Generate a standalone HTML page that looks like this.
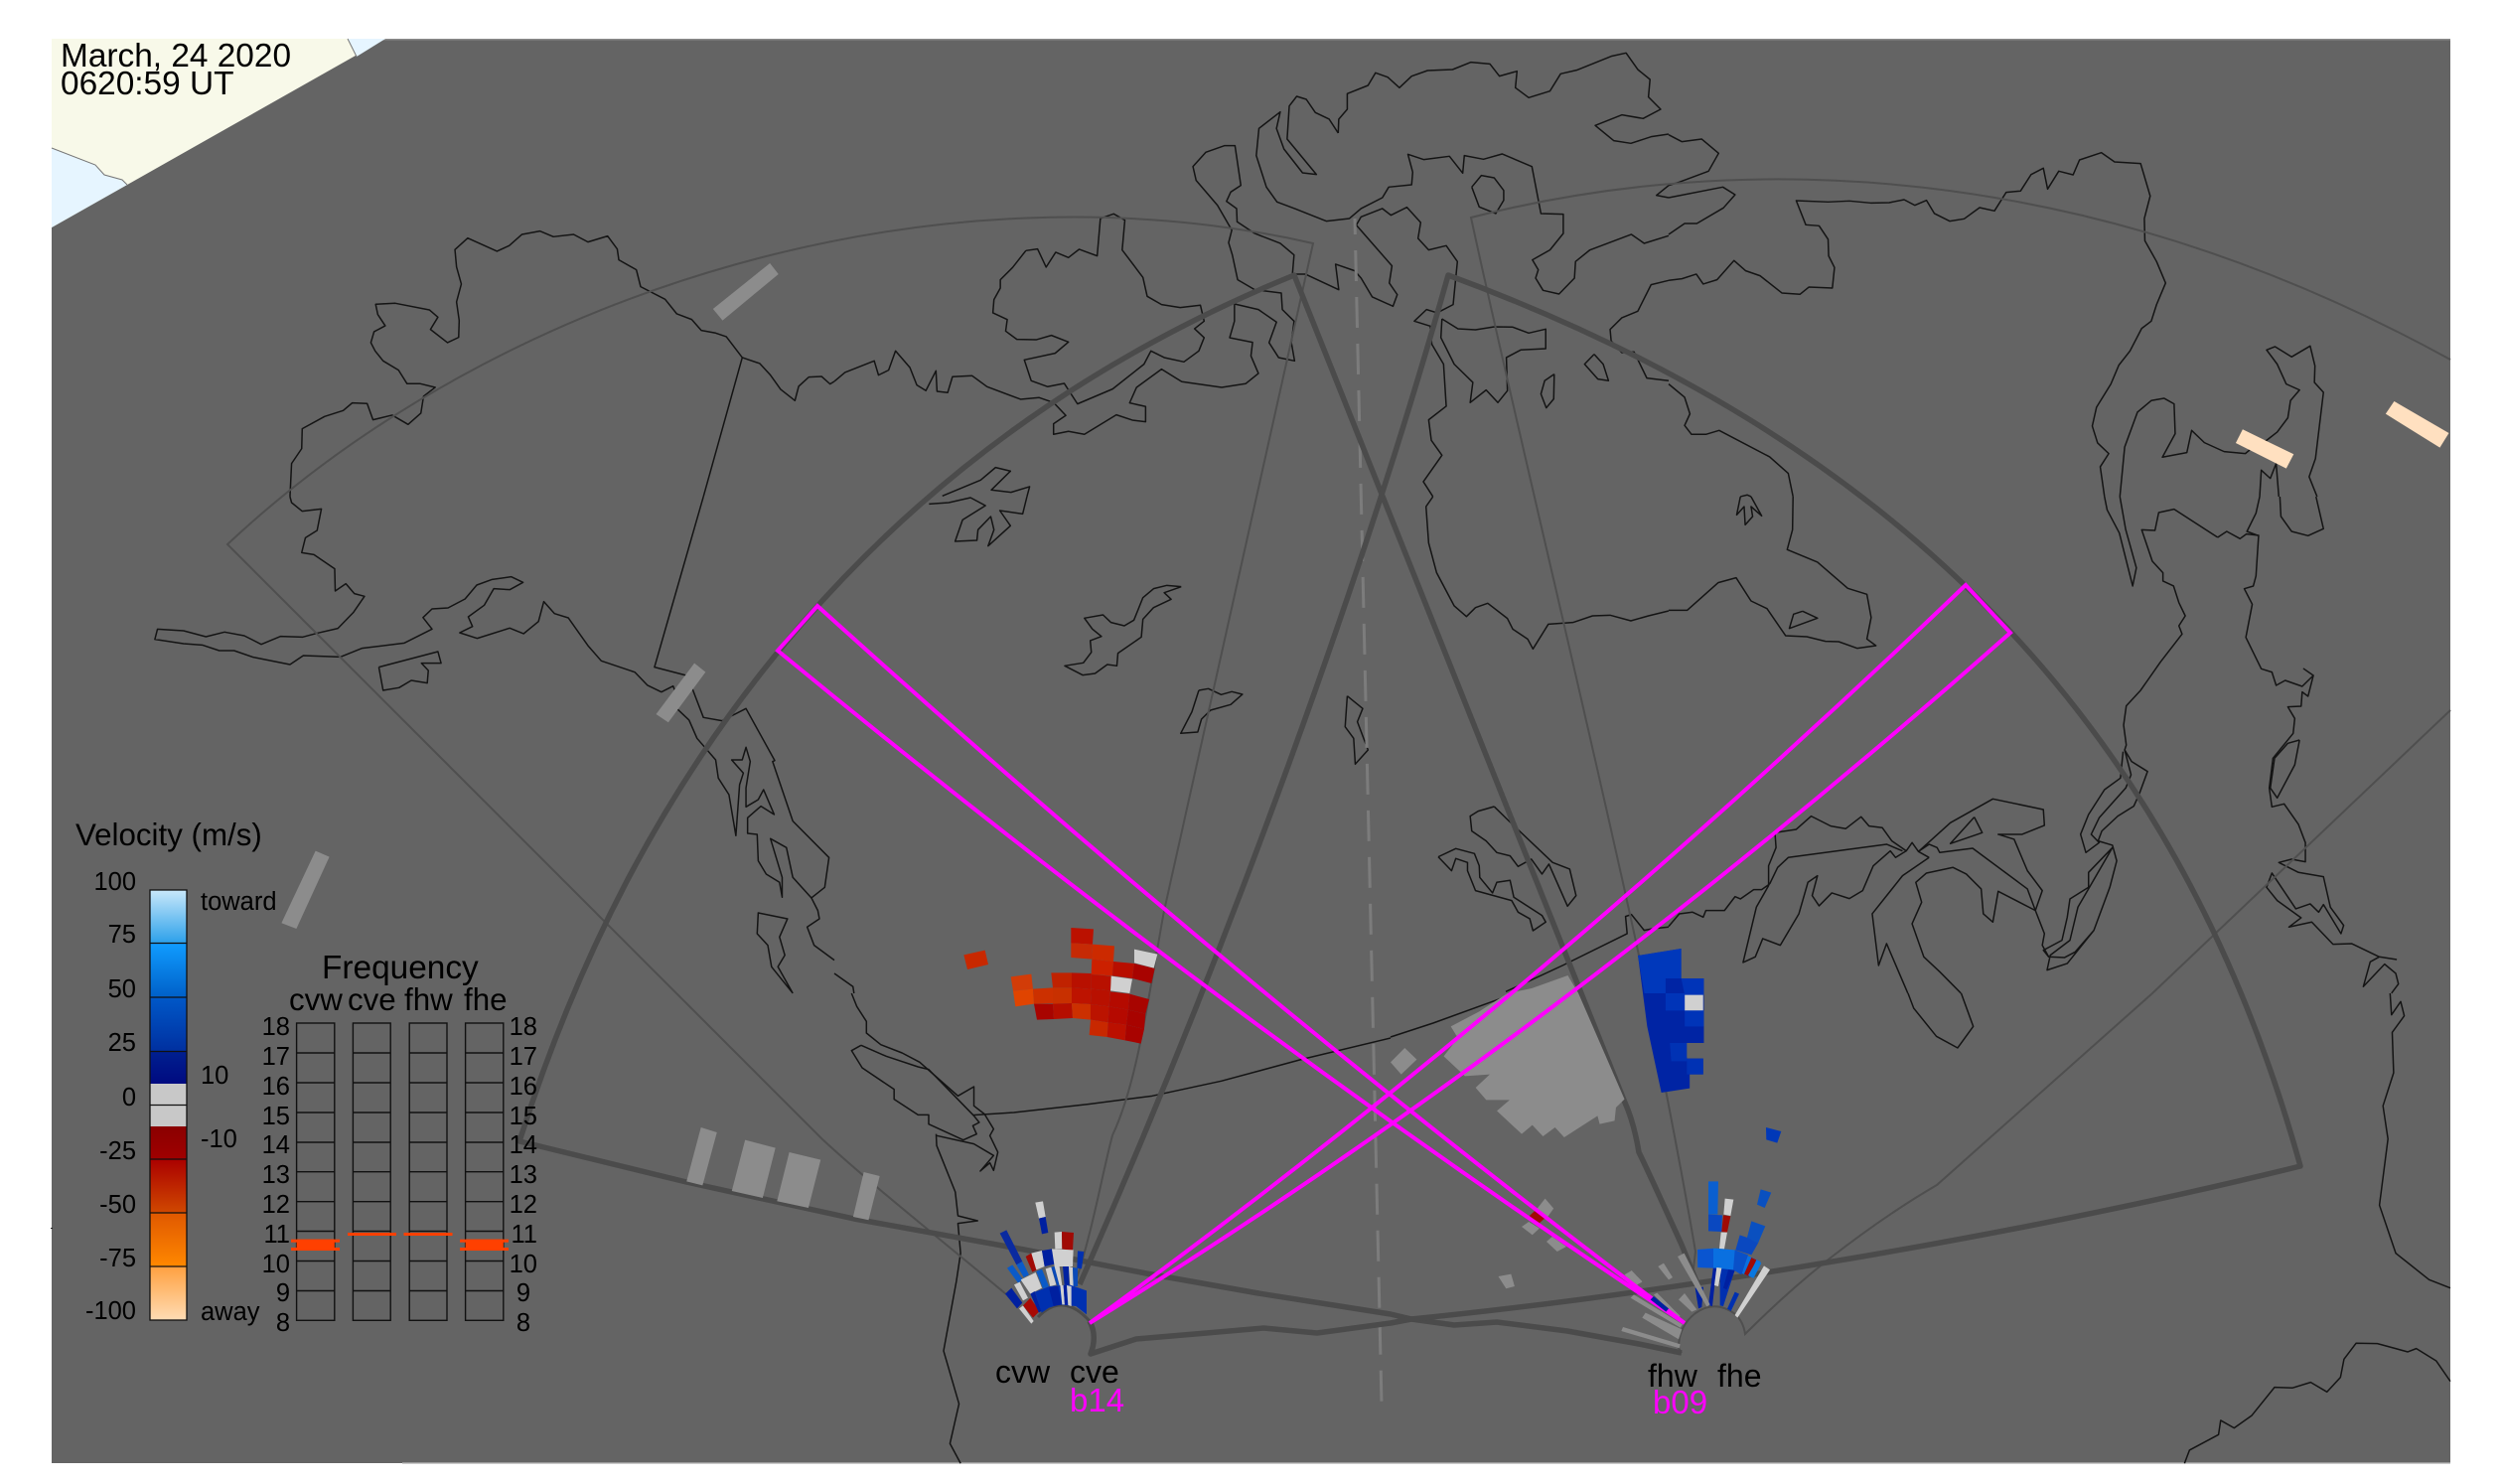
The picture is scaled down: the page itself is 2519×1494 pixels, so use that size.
<!DOCTYPE html>
<html><head><meta charset="utf-8"><style>
html,body{margin:0;padding:0;background:#fff}
svg{display:block}
polyline{vector-effect:non-scaling-stroke;fill:none}
text{font-family:"Liberation Sans",sans-serif;fill:#000}
.c polyline{stroke:#141414;stroke-width:1.5;stroke-linejoin:round}
.thin{fill:none;stroke:#4f4f4f;stroke-width:2}
.thick{fill:none;stroke:#4b4b4b;stroke-width:5.5;stroke-linejoin:round}
.beam{fill:none;stroke:#ff00ff;stroke-width:4;stroke-linejoin:miter}
</style></head><body>
<svg width="2519" height="1494" viewBox="0 0 2519 1494" xmlns="http://www.w3.org/2000/svg">
<rect width="2519" height="1494" fill="#fff"/>
<rect x="52" y="39" width="2415" height="1434" fill="#646464"/>
<rect x="52" y="39" width="2415" height="1.5" fill="#8a8a8a"/>
<rect x="405" y="1472" width="2062" height="1.5" fill="#9a9a9a"/>
<rect x="51" y="1236" width="2" height="1" fill="#222"/>
<polygon points="52,39 388,39 52,229" fill="#f8f9e9"/>
<polygon points="350,39 388,39 359,57" fill="#e6f5ff"/>
<polygon points="52,149 96,166 105,176 123,181 128,186 52,229" fill="#e6f5ff"/>
<polyline points="52,149 96,166 105,176 123,181 128,186" style="stroke:#777;stroke-width:1"/>
<polyline points="350,39 359,57" style="stroke:#777;stroke-width:1"/>

<g class="c">
<g transform="translate(0,0) scale(.5357,.3333)">
<polyline points="545,1500 548,1400 567,1355 568,1295 610,1258 645,1240 662,1217 690,1219 701,1268 737,1254 767,1282 791,1248 796,1197 818,1170 790,1159 765,1159 749,1118 720,1090 705,1060 697,1035 703,1002 724,984 710,950 706,919 743,916 807,936 823,958 809,995 841,1035 862,1019 863,968 858,912 867,858 858,806 855,754 879,719 934,759 957,742 981,708 1015,698 1040,715 1078,708 1105,731 1142,713 1160,752 1163,785 1196,815 1204,866 1250,904 1272,948 1300,965 1318,998 1345,1006 1365,1017 1395,1080 1428,1098 1448,1133 1467,1176 1494,1210 1501,1167 1520,1139 1544,1137 1560,1160 1568,1152"/>
<polyline points="1395,1080 1322,1500"/>
</g>
<g transform="translate(0,500) scale(.5357,.3333)">
<polyline points="545,0 548,18 568,44 604,37 596,102 574,124 567,169 590,175 629,218 630,285 650,263 666,293 685,301 664,350 635,398 597,412 569,424 527,422 491,446 459,420 422,409 387,423 345,405 296,400 291,431 345,444 380,448 412,465 440,465 476,485 545,507 570,480 640,484 680,458 760,442 812,400 795,365 812,339 842,336 874,309 896,267 925,250 961,242 983,259 958,281 928,278 910,328 880,363 888,392 864,411 897,428 958,397 984,414 1012,377 1022,317 1042,353 1068,366 1105,450 1130,496 1193,530 1217,570 1243,590 1265,572 1272,600"/>
<polyline points="1322,0 1230,515 1290,540"/>
<polyline points="712,515 823,468 829,503 792,503 805,525 803,563 773,555 750,577 720,585 712,515"/>
<polyline points="1300,575 1322,667 1357,677 1402,640 1456,797 1452,800 1490,980 1558,1090 1550,1180 1525,1212 1490,1150 1478,1060 1448,1033 1470,1150 1470,1210 1465,1165 1440,1140 1425,1100 1423,1020 1405,1017 1405,970 1430,935 1455,960 1435,885 1425,915 1402,937 1402,880 1410,800 1402,757 1395,795 1375,795 1397,835 1390,870 1383,1024 1370,900 1350,850 1345,795 1310,730 1295,675 1272,640"/>
<polyline points="1525,1212 1537,1250 1540,1275 1517,1300 1530,1355 1568,1400"/>
<polyline points="1490,1500 1462,1420 1475,1385 1465,1330 1480,1275 1425,1257 1423,1320 1443,1355 1450,1420 1490,1500"/>
</g>
<g transform="translate(840,0) scale(.5357,.3333)">
<polyline points="0,1152 20,1125 75,1090 83,1133 102,1118 115,1060 142,1110 155,1163 172,1180 191,1120 193,1182 213,1186 222,1138 259,1135 287,1168 350,1206 385,1201 412,1216 435,1255 412,1280 412,1312 440,1303 470,1312 530,1253 560,1269 585,1274 585,1228 555,1217 568,1170 615,1115 653,1153 728,1170 773,1159 797,1128 783,1075 786,1034 743,1020 752,970 752,918 797,935 831,973 817,1035 835,1080 865,1090 859,1035 864,970 842,935 840,885 790,875 758,845 748,770 741,733 747,695 720,620 680,545 674,503 698,460 733,440 753,440 764,560 745,580 737,608 756,630 757,670 790,705 838,735 864,770 861,828 885,828 948,875 942,798 978,818 990,840 1011,897 1050,925 1058,890 1043,855 1048,803 981,680 990,655 1030,630 1046,650 1076,626 1102,672 1097,720 1117,755 1150,742 1171,790 1163,920 1133,945 1113,935 1090,970 1120,985 1123,1040 1145,1100 1150,1227 1117,1268 1122,1330 1142,1375 1107,1455 1125,1500"/>
<polyline points="947,402 930,360 904,340 887,300 869,291 855,320 851,420 906,527 880,522 845,450 831,388 838,338 798,388 793,470 812,565 832,610 865,630 925,668 968,660 990,630 1030,597 1042,565 1085,558 1087,520 1078,466 1108,482 1156,472 1181,523 1184,470 1220,481 1255,465 1311,503 1328,645 1370,647 1370,705 1345,755 1312,785 1323,815 1318,840 1332,877 1362,888 1391,840 1393,790 1420,755 1498,708 1522,735 1568,712"/>
<polyline points="947,402 948,360 964,330 964,283 1003,258 1017,220 1040,233 1062,265 1085,230 1115,213 1162,210 1196,188 1232,193 1250,230 1283,215 1280,265 1305,295 1345,275 1365,223 1395,212 1460,170 1488,160 1510,210 1533,240 1530,293 1553,330 1520,358 1480,347 1430,379 1465,425 1497,433 1535,413 1568,405"/>
<polyline points="1198,565 1216,530 1240,537 1258,575 1258,605 1243,645 1212,625 1198,565"/>
<polyline points="1428,1070 1410,1100 1435,1145 1455,1150 1445,1100 1428,1070"/>
<polyline points="1353,1130 1335,1150 1328,1190 1338,1232 1352,1205 1353,1130"/>
<polyline points="1568,847 1535,860 1510,940 1480,960 1458,995 1460,1030 1480,1065 1503,1063 1527,1142 1568,1150"/>
<polyline points="1142,963 1172,993 1205,996 1240,987 1275,988 1305,1006 1337,994 1337,1053 1290,1057 1263,1080 1265,1180 1247,1216 1225,1178 1195,1216 1200,1155 1165,1100 1140,1020 1142,963"/>
<polyline points="1568,560 1545,590 1568,597"/>
<polyline points="360,757 382,752 398,807 416,762 440,778 460,753 494,773 500,660 525,646 546,665 541,755 580,838 588,895 615,920 650,929 688,922 695,970 677,993 695,1020 685,1060 657,1093 620,1080 595,1060 582,1100 523,1175 457,1220 432,1158 401,1168 370,1150 357,1087 415,1067 440,1033 408,1013 380,1026 343,1025 322,1000 325,965 298,945 300,905 312,870 312,845 335,808 360,757"/>
<polyline points="203,1498 275,1450 303,1412 331,1423 295,1480 332,1487 367,1470 362,1500"/>
</g>
<g transform="translate(840,500) scale(.5357,.3333)">
<polyline points="178,22 215,18 256,3 284,27 241,70 227,135 268,132 270,100 294,60 300,100 289,149 331,88 311,42 354,52 362,0"/>
<polyline points="652,272 625,268 600,278 580,305 563,373 545,390 520,380 505,357 470,367 485,400 502,422 481,435 483,470 468,502 433,511 467,539 490,534 513,507 531,511 533,473 577,424 580,370 600,335 633,310 620,290 652,272"/>
<polyline points="685,585 703,580 727,598 747,589 767,597 745,628 707,645 690,672 683,711 651,715 672,650 685,585"/>
<polyline points="964,602 993,640 983,680 1003,765 979,808 976,730 960,695 964,602"/>
<polyline points="1240,936 1210,950 1195,965 1198,1010 1225,1040 1245,1075 1270,1085 1285,1117 1310,1095 1330,1140 1343,1110 1378,1237 1394,1205 1382,1125 1350,1105 1268,980 1240,936"/>
<polyline points="1135,1088 1168,1063 1203,1078 1212,1115 1213,1150 1237,1197 1245,1165 1270,1159 1277,1210 1330,1265 1337,1285 1313,1311 1307,1275 1285,1255 1273,1220 1205,1190 1190,1130 1190,1105 1168,1093 1160,1130 1135,1088"/>
<polyline points="1125,0 1112,30 1117,140 1132,230 1165,330 1188,362 1205,335 1228,322 1265,368 1275,400 1303,430 1313,460 1342,385 1388,380 1425,360 1458,358 1497,375 1530,360 1568,345"/>
<polyline points="1262,1495 1310,1460 1370,1415 1490,1320 1487,1268 1498,1262 1522,1310 1537,1305 1568,1300"/>
<polyline points="0,1440 35,1480 37,1500"/>
</g>
<g transform="translate(1680,0) scale(.5351,.3333)">
<polyline points="0,407 25,428 62,420 94,463 75,517 20,550 0,560"/>
<polyline points="0,597 102,565 125,588 103,628 53,675 30,675 0,708"/>
<polyline points="0,847 25,842 52,828 65,858 91,845 123,787 145,818 172,833 213,885 247,889 264,867 308,870 312,808 301,773 300,723 283,682 258,679 240,606 300,610 340,607 380,613 415,612 443,603 463,620 485,605 500,645 529,668 556,661 585,627 613,637 635,581 662,577 682,527 705,508 713,571 734,517 761,528 773,483 814,461 839,489 888,494 906,592 895,660 896,727 918,790 935,855 918,920 908,970 890,992 868,1060 847,1103 832,1160 805,1230 797,1287 807,1338 828,1370 812,1410 820,1500"/>
<polyline points="849,1500 858,1350 882,1245 908,1210 932,1203 951,1220 953,1310 929,1381 975,1367 984,1300 1008,1337 1045,1364 1085,1370 1100,1350 1125,1330 1145,1305 1165,1262 1170,1210 1187,1178 1162,1160 1145,1100 1125,1057 1141,1047 1172,1078 1207,1045 1216,1105 1215,1155 1232,1185 1217,1385 1205,1440 1220,1500"/>
<polyline points="1112,1500 1115,1420 1132,1445 1143,1400 1148,1500"/>
<polyline points="0,1160 30,1200 40,1250 30,1285 43,1312 70,1312 95,1300 190,1380 225,1430 234,1500"/>
<polyline points="135,1500 148,1495 155,1500"/>
</g>
<g transform="translate(1680,500) scale(.5351,.3333)">
<polyline points="135,0 128,55 142,30 144,85 158,60 155,30 175,58 155,0"/>
<polyline points="234,0 233,100 223,160 280,198 337,277 373,295 381,365 373,430 390,450 355,458 320,438 295,437 260,423 220,420 185,338 155,315 127,245 93,260 35,343 0,343"/>
<polyline points="252,346 280,367 227,398 235,355 252,346"/>
<polyline points="820,0 825,40 848,110 873,270 880,215 860,100 849,0"/>
<polyline points="1033,123 951,38 922,48 915,102 890,100 910,195 930,230 930,255 950,270 960,320 972,360 960,390 966,415 925,500 888,585 861,632 856,690 861,750 858,765 871,800 901,830 885,900 875,935 845,965 815,1010 808,1040 835,1053 843,1100 830,1180 800,1310 750,1410 712,1430 718,1385 755,1340 770,1240 835,1060 790,1135 790,1180 755,1215 750,1270 740,1340 705,1370 715,1390 745,1392 765,1375 800,1310"/>
<polyline points="1033,123 1050,105 1075,127 1087,113 1110,117 1105,240 1100,270 1083,278 1098,325 1086,425 1115,520 1135,530 1143,570 1160,555 1192,573 1213,540 1195,520 1213,540 1203,603 1192,590 1190,633 1165,635 1178,670 1175,715 1137,790 1130,880 1135,937 1158,928 1185,990 1198,1045 1198,1103 1172,1095 1148,1105 1185,1135 1232,1148 1245,1240 1270,1295 1265,1320 1232,1232 1223,1255 1207,1230 1180,1245 1135,1137 1125,1180 1145,1220 1190,1272 1167,1300 1210,1285 1250,1352 1285,1350 1337,1390 1370,1398"/>
<polyline points="1337,1390 1320,1405 1307,1480 1347,1412 1368,1440 1373,1472 1360,1500"/>
<polyline points="1112,0 1105,50 1088,105 1108,117"/>
<polyline points="1150,0 1152,60 1172,105 1203,118 1232,97 1218,0"/>
<polyline points="1187,735 1165,745 1140,790 1132,880 1145,910 1178,810 1187,735"/>
<polyline points="200,1015 240,1005 268,965 305,995 333,1003 362,967 377,995 402,1000 420,1040 447,1070 458,1045 470,1072 490,1090"/>
<polyline points="200,1015 202,1060 188,1115 188,1175 165,1240 140,1407 163,1390 177,1335 210,1355 245,1260 262,1165 280,1145 270,1205 283,1236 307,1197 340,1214 365,1190 385,1115 417,1070 427,1090 447,1070"/>
<polyline points="190,1170 205,1120 225,1090 410,1050 440,1070"/>
<polyline points="0,1298 20,1260 45,1255 65,1270 70,1250 105,1250 125,1208 135,1215 160,1187 175,1187 190,1170"/>
<polyline points="470,1072 490,1050 505,1060 510,1075 572,1062 675,1185 690,1250 620,1192 610,1285 592,1260 588,1185 560,1140 535,1120 485,1137 465,1165 476,1225 458,1290 480,1390 510,1435 550,1500"/>
<polyline points="490,1090 440,1145 383,1260 395,1416 410,1350 450,1500"/>
<polyline points="470,1072 530,985 610,913 705,945 707,993 665,1020 620,1020 650,1035 675,1130 703,1190 690,1250 707,1320 703,1355 715,1390"/>
<polyline points="575,968 590,1015 530,1048 575,968"/>
<polyline points="855,770 850,850 820,885 790,960 775,1020 785,1075 810,1045 795,1020 810,970 860,880 870,840 858,765"/>
</g>
<g transform="translate(560,1000) scale(.5357,.3333)">
<polyline points="555,0 565,40 583,85 583,120 610,155 650,180 683,208 755,310 785,282 785,340 805,365 822,410 815,430 830,480 822,535 815,512 797,537 822,490 785,455 715,430"/>
<polyline points="573,157 555,173 575,225 635,290 635,320 680,367 700,367 700,395 765,443 790,425 783,400 795,390 785,370 700,230 680,222 620,190 573,157"/>
<polyline points="714,425 715,460 750,600 755,672 792,687 755,695 760,785 752,870 728,1080 757,1240 740,1360 760,1420"/>
<polyline points="783,368 860,360 1000,335 1120,310 1250,265 1400,200 1568,135"/>
</g>
<g transform="translate(1400,1000) scale(.7137,.3333)">
<polyline points="0,132 60,90 150,20 175,0"/>
<polyline points="1410,0 1412,65 1425,25 1430,68 1413,118 1415,240 1400,340 1407,440 1395,640 1418,785 1465,865 1495,890"/>
<polyline points="730,0 738,45 770,130 800,165 822,100 805,0"/>
<polyline points="1120,1420 1127,1380 1168,1333 1171,1290 1190,1313 1215,1275 1247,1190 1272,1192 1298,1175 1321,1204 1340,1160 1345,1105 1362,1057 1392,1058 1435,1083 1447,1073 1475,1110 1495,1172"/>
</g>
</g>

<!-- thin fans -->
<path class="thin" d="M828 1147C880 1195 950 1250 1013 1303M828 1147L229 548C510 285 950 160 1322 245L1172 917C1155 1010 1145 1090 1120 1143C1110 1180 1100 1240 1082 1293"/>
<path class="thin" d="M2467 362C2100 160 1750 150 1481 219C1520 400 1600 730 1649 957C1670 1060 1690 1160 1707 1260L1705 1277"/>
<path class="thin" d="M2467 715L2167 1000L1950 1193Q1900 1222 1842 1267Q1800 1300 1757 1343Q1755 1330 1747 1323Q1727 1308 1707 1322Q1690 1335 1690 1357L1693 1362"/>
<!-- dashed -->
<line x1="1364" y1="220" x2="1391" y2="1414" stroke="#7c7c7c" stroke-width="3" stroke-dasharray="31 16" stroke-dashoffset="15"/>
<!-- thick fans -->
<path class="thick" d="M1710 1295L1693 1253L1672 1207Q1655 1170 1650 1160Q1645 1130 1636 1110L1303 277C903 440 649 750 523 1149L691 1190L860 1227L1031 1258L1154 1282L1267 1302L1400 1323L1421 1328L1464 1334L1507 1331L1578 1340L1650 1353L1693 1362"/>
<path class="thick" d="M1087 1293C1230 970 1370 590 1458 277C1900 440 2190 720 2316 1174C2050 1240 1700 1300 1421 1328L1400 1332L1326 1342L1272 1337L1203 1343L1144 1348L1098 1363Q1105 1345 1097 1330"/>
<path class="thin" style="stroke-width:3;stroke:#4b4b4b" d="M1045 1326Q1070 1300 1097 1330"/>

<!-- gray bars -->
<g fill="#8c8c8c">
<polygon transform="scale(.5357,.3333)" points="1447,795 1463,828 1358,968 1340,933"/>
<g transform="translate(0,500) scale(.5357,.3333)">
<polygon points="1305,503 1326,530 1256,682 1233,657"/>
<polygon points="593,1070 619,1088 557,1305 529,1288"/>
</g>
<g transform="translate(560,1000) scale(.5357,.3333)">
<polygon points="272,405 302,420 275,580 245,568"/>
<polygon points="355,443 412,467 388,618 330,597"/>
<polygon points="438,480 497,503 474,648 415,628"/>
<polygon points="578,540 608,552 587,685 558,675"/>
</g>
<g transform="translate(1400,1000) scale(.7137,.3333)">
<polygon points="265,0 330,320 318,345 316,385 295,395 292,370 245,435 232,405 215,432 200,398 185,425 150,355 168,322 135,322 120,285 140,245 105,250 75,190 95,135 85,100 125,55 165,0 199,-15 250,-54"/>
<polygon points="20,165 37,200 15,245 0,208"/>
<polygon points="152,855 170,848 175,885 163,892"/>
<polygon points="218,620 230,650 220,680 207,650"/>
<polygon points="195,690 210,710 200,730 185,705"/>
<polygon points="228,735 248,765 235,780 220,750"/>
<polygon points="340,838 355,870 345,885 330,850"/>
<polygon points="207,650 220,675 207,700 196,672" fill="#a00a05"/>
</g>
</g>
<g transform="translate(1680,0) scale(.5351,.3333)" fill="#ffe0c0">
<polygon points="1080,1297 1176,1372 1162,1415 1067,1338"/>
<polygon points="1365,1212 1468,1308 1451,1352 1349,1250"/>
</g>

<!-- red data -->
<g transform="translate(940,900) scale(.3333)">
<polygon fill="#bb1100" points="415,102 483,106 480,152 415,148"/>
<polygon fill="#c62a05" points="415,148 480,152 478,197 415,192"/>
<polygon fill="#cc2a00" points="480,152 546,157 543,204 478,197"/>
<polygon fill="#c82800" points="91,184 155,170 165,213 102,228"/>
<polygon fill="#cfcfcf" points="606,167 676,182 665,224 606,208"/>
<polygon fill="#cc2000" points="478,197 543,204 540,247 476,243"/>
<polygon fill="#b80e00" points="543,204 606,210 600,255 540,247"/>
<polygon fill="#a80300" points="606,210 668,225 658,270 600,255"/>
<polygon fill="#d0d0d0" points="536,248 600,257 592,300 534,292"/>
<polygon fill="#d23c08" points="233,250 295,242 300,287 240,293"/>
<polygon fill="#e04400" points="240,293 300,287 303,332 247,340"/>
<polygon fill="#cc3000" points="300,287 360,283 360,330 303,332"/>
<polygon fill="#c02200" points="355,238 417,238 417,283 360,283"/>
<polygon fill="#b81000" points="417,238 476,240 476,287 417,283"/>
<polygon fill="#b81000" points="476,243 536,248 534,292 476,287"/>
<polygon fill="#c83000" points="360,283 417,283 417,330 360,332"/>
<polygon fill="#bd1300" points="417,283 476,287 474,333 417,330"/>
<polygon fill="#b81000" points="476,287 534,292 530,340 474,333"/>
<polygon fill="#b40a00" points="534,295 592,302 588,350 530,340"/>
<polygon fill="#a80400" points="592,302 651,318 640,362 588,350"/>
<polygon fill="#a80400" points="303,332 360,332 363,378 312,380"/>
<polygon fill="#b50e00" points="360,332 417,330 420,375 363,378"/>
<polygon fill="#cc3000" points="417,330 474,333 474,380 420,375"/>
<polygon fill="#bb1300" points="474,333 530,340 527,388 474,380"/>
<polygon fill="#b50900" points="530,340 588,350 582,395 527,388"/>
<polygon fill="#a80300" points="588,350 640,362 636,408 582,395"/>
<polygon fill="#c82800" points="474,380 527,388 524,432 470,426"/>
<polygon fill="#bb1000" points="527,388 582,395 578,442 524,432"/>
<polygon fill="#a80300" points="582,395 636,408 626,452 578,442"/>
</g>

<!-- blue panel -->
<g transform="translate(1400,1000) scale(.7137,.3333)">
<polygon fill="#0024a4" points="349,-114 410,-135 410,-45 442,-45 442,150 415,150 418,197 441,197 441,245 422,245 422,287 382,300 362,100"/>
<polygon fill="#0038bb" points="349,-114 410,-135 410,-45 388,-45 388,0 358,0"/>
<polygon fill="#0034b8" points="388,0 415,0 415,52 388,52"/>
<polygon fill="#0034b8" points="410,-45 442,-45 442,5 415,5"/>
<polygon fill="#d0d0d0" points="415,5 441,5 441,52 415,52"/>
<polygon fill="#0034b8" points="415,52 442,52 442,100 415,100"/>
<polygon fill="#0032b4" points="394,150 418,150 418,205 396,205"/>
<polygon fill="#0032b4" points="418,197 441,197 441,245 418,245"/>
</g>

<!-- cv fan -->
<g transform="translate(950,1180) scale(.3333)">
<polygon fill="#d0d0d0" points="277,92 300,88 308,135 288,140"/>
<polygon fill="#0020a0" points="288,140 308,135 316,183 297,187"/>
<polygon fill="#0a2aa0" points="170,185 190,175 238,270 220,280"/>
<polygon fill="#0a5ac8" points="220,280 238,270 258,310 242,318"/>
<polygon fill="#d0d0d0" points="335,182 357,180 358,232 337,232"/>
<polygon fill="#a00a05" points="357,180 393,183 390,237 358,232"/>
<polygon fill="#0030b0" points="405,238 424,240 417,292 403,290"/>
<polygon fill="#a00a05" points="248,255 265,245 282,295 268,302"/>
<polygon fill="#d0d0d0" points="265,245 297,237 305,285 280,295"/>
<polygon fill="#0020a0" points="297,237 327,232 335,278 305,285"/>
<polygon fill="#d0d0d0" points="327,232 392,235 390,285 335,285"/>
<polygon fill="#0a5ac8" points="192,290 208,280 240,325 225,335"/>
<polygon fill="#d0d0d0" points="213,340 230,332 255,380 240,388"/>
<polygon fill="#d0d0d0" points="233,325 278,303 297,350 262,368"/>
<polygon fill="#0a5ac8" points="280,300 297,293 318,345 300,352"/>
<polygon fill="#d0d0d0" points="308,292 325,287 340,340 322,345"/>
<polygon fill="#0a4ab8" points="325,287 335,285 350,342 342,342"/>
<polygon fill="#0022a0" points="360,285 378,285 380,340 365,342"/>
<polygon fill="#d0d0d0" points="378,285 390,288 392,345 382,345"/>
<polygon fill="#0a4ab8" points="390,288 405,290 405,345 392,345"/>
<polygon fill="#d0d0d0" points="335,285 350,285 358,342 350,342"/>
<polygon fill="#0030b0" points="276,362 320,345 380,340 432,358 432,430 400,405 350,400 318,410 296,425"/>
<polygon fill="#0020a0" points="318,350 345,343 358,400 332,405"/>
<polygon fill="#d0d0d0" points="352,342 362,342 366,400 358,400"/>
<polygon fill="#001fa0" points="362,342 372,342 376,402 366,400"/>
<polygon fill="#d0d0d0" points="372,342 386,345 386,405 376,402"/>
<polygon fill="#0020a0" points="186,368 205,350 238,395 222,412"/>
<polygon fill="#d0d0d0" points="228,412 240,403 272,450 265,458"/>
<polygon fill="#a80a05" points="240,403 262,380 290,420 270,440"/>
<polygon fill="#0022a0" points="262,368 275,360 295,420 288,425"/>
</g>

<!-- fh fan -->
<g transform="translate(1600,1130) scale(.3333)">
<polygon fill="#0038b8" points="534,15 580,27 568,62 535,52"/>
<polygon fill="#0a50c0" points="518,202 550,212 530,258 507,248"/>
<polygon fill="#0a5fd0" points="360,178 390,178 388,278 360,278"/>
<polygon fill="#0a48c0" points="360,278 402,280 400,330 360,328"/>
<polygon fill="#d0d0d0" points="410,230 436,233 427,282 406,278"/>
<polygon fill="#a00a05" points="405,280 427,283 417,332 400,330"/>
<polygon fill="#d0d0d0" points="398,332 417,332 408,382 393,382"/>
<polygon fill="#0a50c0" points="490,298 532,313 510,365 475,355"/>
<polygon fill="#0a48c0" points="455,340 478,348 510,365 490,400 442,385"/>
<polygon fill="#0020a0" points="375,435 385,437 372,555 360,552"/>
<polygon fill="#0030b0" points="395,440 440,445 405,555 395,553"/>
<polygon fill="#0020a0" points="420,445 440,447 415,505 405,500"/>
<polygon fill="#0a70e0" points="327,384 380,380 440,385 518,420 495,470 435,445 380,440 328,438"/>
<polygon fill="#0a55d0" points="327,384 375,381 375,440 328,438"/>
<polygon fill="#0a50c8" points="440,385 480,400 460,460 435,445"/>
<polygon fill="#a00a05" points="490,408 505,415 483,465 468,458"/>
<polygon fill="#0a78e0" points="505,418 520,425 497,470 480,462"/>
<polygon fill="#d0d0d0" points="528,433 546,445 448,590 440,582"/>
<polygon fill="#d0d0d0" points="385,438 400,440 390,495 378,492"/>
<polygon fill="#0030b0" points="440,512 453,518 428,570 417,563"/>
<polygon fill="#0022a0" points="320,500 345,497 340,558 330,562"/>
<g fill="#8c8c8c">
<polygon points="267,405 287,395 365,550 355,556"/>
<polygon points="208,435 225,425 252,468 240,475"/>
<polygon points="270,535 288,516 325,565 310,572"/>
<polygon points="112,460 128,447 160,482 150,487"/>
<polygon points="125,530 135,520 282,610 275,620"/>
<polygon points="160,590 170,575 280,625 270,655"/>
<polygon points="97,630 102,618 275,670 272,682"/>
<polygon points="195,520 205,515 275,585 265,595"/>
</g>
</g>

<!-- magenta beams -->
<path class="beam" d="M1097 1332Q1538 1012 1979 589L2024 637Q1560 1047 1097 1332Z"/>
<path class="beam" d="M1696 1332Q1260 1005 823 610L783 655Q1240 1031 1696 1332Z"/>
<polygon transform="translate(1600,1130) scale(.3333)" fill="#0020a0" points="185,535 195,525 240,562 232,572"/>

<!-- legend colour bar -->
<defs>
<linearGradient id="g1" x1="0" y1="0" x2="0" y2="1"><stop offset="0" stop-color="#c8e8fa"/><stop offset="1" stop-color="#2ba0ea"/></linearGradient>
<linearGradient id="g2" x1="0" y1="0" x2="0" y2="1"><stop offset="0" stop-color="#109cff"/><stop offset="1" stop-color="#0060c8"/></linearGradient>
<linearGradient id="g3" x1="0" y1="0" x2="0" y2="1"><stop offset="0" stop-color="#0058c8"/><stop offset="1" stop-color="#0030a0"/></linearGradient>
<linearGradient id="g4" x1="0" y1="0" x2="0" y2="1"><stop offset="0" stop-color="#002090"/><stop offset="1" stop-color="#000a80"/></linearGradient>
<linearGradient id="g5" x1="0" y1="0" x2="0" y2="1"><stop offset="0" stop-color="#8a0000"/><stop offset="1" stop-color="#a00000"/></linearGradient>
<linearGradient id="g6" x1="0" y1="0" x2="0" y2="1"><stop offset="0" stop-color="#aa0000"/><stop offset="1" stop-color="#d04800"/></linearGradient>
<linearGradient id="g7" x1="0" y1="0" x2="0" y2="1"><stop offset="0" stop-color="#e05800"/><stop offset="1" stop-color="#ff8800"/></linearGradient>
<linearGradient id="g8" x1="0" y1="0" x2="0" y2="1"><stop offset="0" stop-color="#ffa040"/><stop offset="1" stop-color="#ffdcb4"/></linearGradient>
</defs>
<rect x="151" y="896" width="37" height="54" fill="url(#g1)"/>
<rect x="151" y="950" width="37" height="54" fill="url(#g2)"/>
<rect x="151" y="1004" width="37" height="54" fill="url(#g3)"/>
<rect x="151" y="1058" width="37" height="33" fill="url(#g4)"/>
<rect x="151" y="1091" width="37" height="43" fill="#c8c8c8"/>
<rect x="151" y="1134" width="37" height="33" fill="url(#g5)"/>
<rect x="151" y="1167" width="37" height="54" fill="url(#g6)"/>
<rect x="151" y="1221" width="37" height="54" fill="url(#g7)"/>
<rect x="151" y="1275" width="37" height="54" fill="url(#g8)"/>
<g stroke="#111" stroke-width="1.2">
<line x1="151" x2="188" y1="949.5" y2="949.5"/>
<line x1="151" x2="188" y1="1004" y2="1004"/>
<line x1="151" x2="188" y1="1058.5" y2="1058.5"/>
<line x1="151" x2="188" y1="1112.5" y2="1112.5"/>
<line x1="151" x2="188" y1="1167" y2="1167"/>
<line x1="151" x2="188" y1="1221" y2="1221"/>
<line x1="151" x2="188" y1="1275" y2="1275"/>
</g>
<rect x="151" y="896" width="37" height="433" fill="none" stroke="#111" stroke-width="1.3"/>

<!-- frequency boxes -->
<g fill="none" stroke="#111" stroke-width="1.4">
<rect x="298.6" y="1030" width="38.2" height="299.3"/>
<rect x="355.4" y="1030" width="37.8" height="299.3"/>
<rect x="412.2" y="1030" width="37.8" height="299.3"/>
<rect x="468.6" y="1030" width="38.2" height="299.3"/>
<path d="M298.6 1060H336.8M298.6 1090H336.8M298.6 1120H336.8M298.6 1150H336.8M298.6 1179.700H336.8M298.6 1209.700H336.8M298.6 1239.500H336.8M298.6 1269.500H336.8M298.6 1299.500H336.8"/>
<path d="M355.400 1060H393.200M355.400 1090H393.200M355.400 1120H393.200M355.400 1150H393.200M355.400 1179.700H393.200M355.400 1209.700H393.200M355.400 1239.500H393.200M355.400 1269.500H393.200M355.400 1299.500H393.200"/>
<path d="M412.200 1060H450M412.200 1090H450M412.200 1120H450M412.200 1150H450M412.200 1179.700H450M412.200 1209.700H450M412.200 1239.500H450M412.200 1269.500H450M412.200 1299.500H450"/>
<path d="M468.600 1060H506.800M468.600 1090H506.800M468.600 1120H506.800M468.600 1150H506.800M468.600 1179.700H506.800M468.600 1209.700H506.800M468.600 1239.500H506.800M468.600 1269.500H506.800M468.600 1299.500H506.800"/>
</g>
<g fill="#ff4000">
<rect x="293" y="1247.700" width="49" height="3"/><rect x="293" y="1256" width="49" height="3"/><rect x="298.600" y="1247.700" width="38.200" height="11.300"/>
<rect x="350" y="1241" width="49" height="3"/>
<rect x="406.500" y="1241" width="49" height="3"/>
<rect x="463" y="1247.700" width="49" height="3"/><rect x="463" y="1256" width="49" height="3"/><rect x="468.600" y="1247.700" width="38.200" height="11.300"/>
</g>

<!-- text -->
<text x="61" y="67" font-size="33.400">March, 24 2020</text>
<text x="61" y="95" font-size="33.400">0620:59 UT</text>
<text x="76" y="851" font-size="31.300">Velocity (m/s)</text>
<g font-size="25.500" text-anchor="end">
<text x="137" y="896">100</text><text x="137" y="949">75</text><text x="137" y="1004">50</text><text x="137" y="1058">25</text><text x="137" y="1113">0</text><text x="137" y="1167">-25</text><text x="137" y="1221">-50</text><text x="137" y="1275">-75</text><text x="137" y="1328">-100</text>
</g>
<g font-size="25.500">
<text x="202" y="916">toward</text><text x="202" y="1091">10</text><text x="202" y="1155">-10</text><text x="202" y="1329">away</text>
</g>
<text x="324" y="985" font-size="33.400">Frequency</text>
<g font-size="31.300">
<text x="291" y="1017">cvw</text><text x="350" y="1017">cve</text><text x="407" y="1017">fhw</text><text x="467" y="1017">fhe</text>
</g>
<g font-size="25.500" text-anchor="end">
<text x="292" y="1042">18</text><text x="292" y="1072">17</text><text x="292" y="1102">16</text><text x="292" y="1132">15</text><text x="292" y="1161">14</text><text x="292" y="1191">13</text><text x="292" y="1221">12</text><text x="292" y="1251">11</text><text x="292" y="1281">10</text><text x="292" y="1310">9</text><text x="292" y="1340">8</text>
<text x="541" y="1042">18</text><text x="541" y="1072">17</text><text x="541" y="1102">16</text><text x="541" y="1132">15</text><text x="541" y="1161">14</text><text x="541" y="1191">13</text><text x="541" y="1221">12</text><text x="541" y="1251">11</text><text x="541" y="1281">10</text><text x="534" y="1310">9</text><text x="534" y="1340">8</text>
</g>
<g font-size="32">
<text x="1002" y="1392">cvw</text><text x="1077" y="1392">cve</text>
<text x="1659" y="1396">fhw</text><text x="1729" y="1396">fhe</text>
</g>
<g font-size="33">
<text x="1077" y="1421" style="fill:#ff00ff">b14</text>
<text x="1664" y="1423" style="fill:#ff00ff">b09</text>
</g>
</svg>
</body></html>
